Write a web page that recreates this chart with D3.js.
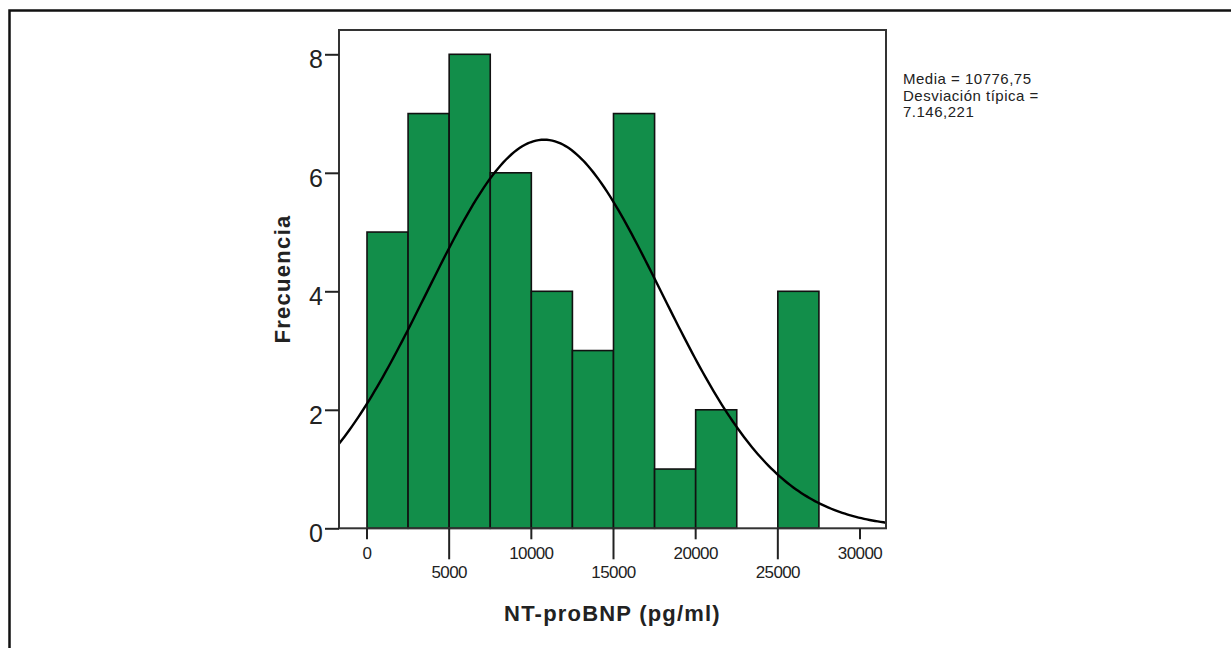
<!DOCTYPE html>
<html>
<head>
<meta charset="utf-8">
<script src="https://cdn.jsdelivr.net/npm/d3@7"></script>
<style>
  html, body { margin: 0; padding: 0; background: #fff; }
  svg { display: block; }
  text { font-family: "Liberation Sans", Arial, sans-serif; fill: #222; }
</style>
</head>
<body>
<svg id="chart" width="1231" height="648"></svg>
<script>
// ---- data ----
const binStarts = [0, 2500, 5000, 7500, 10000, 12500, 15000, 17500, 20000, 22500, 25000];
const binWidth = 2500;
const counts = [5, 7, 8, 6, 4, 3, 7, 1, 2, 0, 4];
const xTicks = [0, 5000, 10000, 15000, 20000, 25000, 30000];
const yTicks = [0, 2, 4, 6, 8];
const meanVal = 10776.75;
const sdVal = 7146.221;
const statsLines = ["Media = 10776,75", "Desviación típica =", "7.146,221"];
const xTitle = "NT-proBNP (pg/ml)";
const yTitle = "Frecuencia";

(function () {
// ---- layout ----
const svg = d3.select("#chart");
const pL = 339, pR = 886, pT = 30, pB = 528.3;

const x = d3.scaleLinear().domain([0, 30000]).range([367, 860]);
const y = d3.scaleLinear().domain([0, 8]).range([528.3, 54.3]);

// outer frame (extends beyond the picture)
svg.append("rect")
  .attr("x", 9.5).attr("y", 10.5)
  .attr("width", 1300).attr("height", 700)
  .attr("fill", "none").attr("stroke", "#111").attr("stroke-width", 2.5);

svg.append("defs").append("clipPath").attr("id", "plotclip")
  .append("rect").attr("x", pL).attr("y", pT)
  .attr("width", pR - pL).attr("height", pB - pT);

// bars
const bins = binStarts.map((s, i) => ({ x0: s, x1: s + binWidth, n: counts[i] }))
  .filter(d => d.n > 0);
svg.append("g").selectAll("rect").data(bins).join("rect")
  .attr("x", d => x(d.x0))
  .attr("y", d => y(d.n))
  .attr("width", d => x(d.x1) - x(d.x0))
  .attr("height", d => y(0) - y(d.n))
  .attr("fill", "#128e4a")
  .attr("stroke", "#111")
  .attr("stroke-width", 1.6);

// normal curve
const total = d3.sum(counts);
const dens = v => total * binWidth / (sdVal * Math.sqrt(2 * Math.PI)) *
  Math.exp(-0.5 * Math.pow((v - meanVal) / sdVal, 2));
const v0 = x.invert(pL), v1 = x.invert(pR);
const xs = d3.range(0, 201).map(i => v0 + (v1 - v0) * i / 200);
svg.append("path")
  .datum(xs)
  .attr("clip-path", "url(#plotclip)")
  .attr("fill", "none")
  .attr("stroke", "#000")
  .attr("stroke-width", 2.4)
  .attr("d", d3.line().x(v => x(v)).y(v => y(dens(v))));

// plot frame
svg.append("rect")
  .attr("x", pL).attr("y", pT)
  .attr("width", pR - pL).attr("height", pB - pT)
  .attr("fill", "none").attr("stroke", "#333").attr("stroke-width", 2);

// y axis ticks
const yAxis = d3.axisLeft(y).tickValues(yTicks).tickSize(14).tickPadding(2).tickFormat(d3.format("d"));
const gy = svg.append("g").attr("transform", `translate(${pL},0)`).call(yAxis);
gy.select(".domain").remove();
gy.selectAll(".tick line").attr("stroke", "#222").attr("stroke-width", 2);
gy.selectAll(".tick text")
  .attr("font-size", 25).attr("fill", "#333")
  .attr("font-family", "'Liberation Sans', Arial, sans-serif")
  .attr("dy", "0.54em");

// x axis ticks (alternating lengths / rows)
const gx = svg.append("g").attr("transform", `translate(0,${pB})`);
const xt = gx.selectAll("g").data(xTicks).join("g")
  .attr("transform", d => `translate(${x(d)},0)`);
xt.append("line")
  .attr("y1", 0).attr("y2", (d, i) => i % 2 === 0 ? 11 : 31)
  .attr("stroke", "#222").attr("stroke-width", 2);
xt.append("text")
  .attr("text-anchor", "middle")
  .attr("y", (d, i) => i % 2 === 0 ? 30.5 : 50)
  .attr("font-size", 17)
  .attr("letter-spacing", "-0.6")
  .attr("fill", "#333")
  .text(d => d3.format("d")(d));

// axis titles
svg.append("text")
  .attr("x", (pL + pR) / 2).attr("y", 621)
  .attr("text-anchor", "middle")
  .attr("font-size", 22).attr("font-weight", "bold")
  .attr("letter-spacing", "1.2")
  .attr("fill", "#111")
  .text(xTitle);

svg.append("text")
  .attr("transform", "translate(290,279) rotate(-90)")
  .attr("text-anchor", "middle")
  .attr("font-size", 22).attr("font-weight", "bold")
  .attr("letter-spacing", "1.3")
  .attr("fill", "#111")
  .text(yTitle);

// stats annotation
svg.append("g").selectAll("text").data(statsLines).join("text")
  .attr("x", 903)
  .attr("y", (d, i) => 84 + i * 16.5)
  .attr("font-size", 15)
  .attr("letter-spacing", "0.5")
  .attr("fill", "#222")
  .text(d => d);
})();
</script>
</body>
</html>
